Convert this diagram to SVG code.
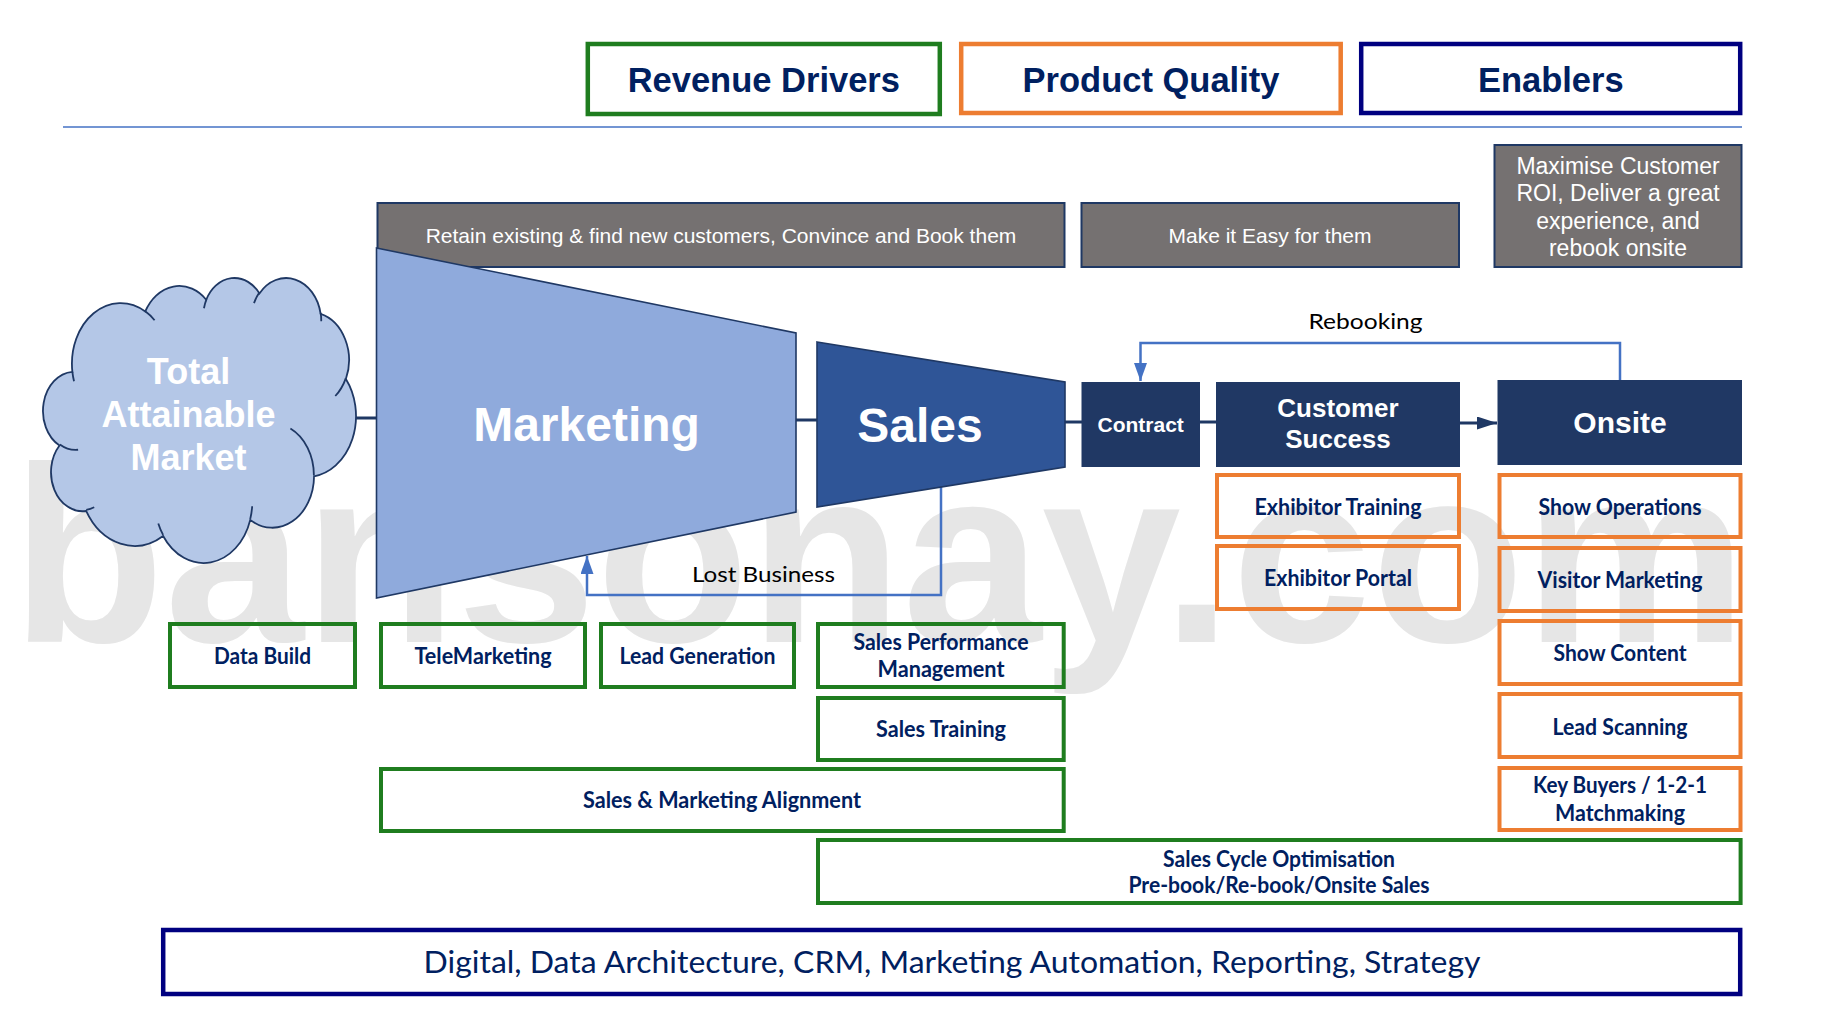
<svg xmlns="http://www.w3.org/2000/svg" width="1829" height="1020" viewBox="0 0 1829 1020">
<defs>
<style>
.lbl{font-family:Lato,"Open Sans","Liberation Sans",sans-serif;font-weight:700;font-size:22px;fill:#002060;text-anchor:middle}
.reg{font-family:Lato,"Open Sans","Liberation Sans",sans-serif;font-weight:400;fill:#000;text-anchor:middle}
.g{fill:none;stroke:#1f7d1f;stroke-width:4}
.o{fill:none;stroke:#ed7d31;stroke-width:4}
.n{fill:none;stroke:#000080;stroke-width:4.5}
.gray{fill:#757171;stroke:#1f3864;stroke-width:2}
.gt{font-family:"Liberation Sans",Arial,sans-serif;font-size:21px;fill:#fff;text-anchor:middle}
.dark{fill:#203864}
.wt{font-family:"Liberation Sans",Arial,sans-serif;font-weight:700;fill:#fff;text-anchor:middle}
.hd{font-family:"Liberation Sans",Arial,sans-serif;font-weight:700;font-size:34.5px;fill:#002060;text-anchor:middle}
.cn{fill:none;stroke:#1f3864;stroke-width:3}
.bl{fill:none;stroke:#4472c4;stroke-width:2.5}
.shape{stroke:#1f3864;stroke-width:1.6}
</style>
<marker id="arrBlue" markerUnits="userSpaceOnUse" markerWidth="19" markerHeight="14" refX="18" refY="6.5" orient="auto">
<path d="M0,0 L18,6.5 L0,13 Z" fill="#4472c4"/>
</marker>
<marker id="arrNavy" markerUnits="userSpaceOnUse" markerWidth="21" markerHeight="14" refX="20" refY="6.5" orient="auto">
<path d="M0,0 L20,6.5 L0,13 Z" fill="#1f3864"/>
</marker>
</defs>
<rect x="0" y="0" width="1829" height="1020" fill="#fff"/>
<text x="11.5" y="642" font-family="Liberation Sans,Arial,sans-serif" font-weight="700" font-size="250.5" fill="#e6e6e6">bansonay.com</text>

<g id="header-revenue"><rect class="n" x="587.8" y="44" width="352" height="70" style="stroke:#1f7d1f"/><text class="hd" x="763.8" y="92">Revenue Drivers</text></g>
<g id="header-quality"><rect class="n" x="961.2" y="44" width="379.5" height="69" style="stroke:#ed7d31"/><text class="hd" x="1151" y="92">Product Quality</text></g>
<g id="header-enablers"><rect class="n" x="1361.2" y="44" width="379" height="69"/><text class="hd" x="1550.8" y="92">Enablers</text></g>
<line x1="63" y1="127" x2="1742" y2="127" stroke="#4472c4" stroke-width="1.6"/>

<g id="banner-retain"><rect class="gray" x="377.5" y="203" width="687" height="64"/><text class="gt" x="721" y="243">Retain existing &amp; find new customers, Convince and Book them</text></g>
<g id="banner-easy"><rect class="gray" x="1081.5" y="203" width="377.5" height="64"/><text class="gt" x="1270" y="243">Make it Easy for them</text></g>
<g id="banner-roi"><rect class="gray" x="1494.5" y="145" width="247" height="122"/>
<text class="gt" x="1618" y="173.5" style="font-size:23px">Maximise Customer</text>
<text class="gt" x="1618" y="201" style="font-size:23px">ROI, Deliver a great</text>
<text class="gt" x="1618" y="228.5" style="font-size:23px">experience, and</text>
<text class="gt" x="1618" y="256" style="font-size:23px">rebook onsite</text></g>

<g id="connectors">
<line class="cn" x1="354" y1="418" x2="377" y2="418"/>
<line class="cn" x1="796" y1="420" x2="817" y2="420"/>
<line class="cn" x1="1065" y1="422" x2="1082" y2="422"/>
<line class="cn" x1="1200" y1="422" x2="1216" y2="422"/>
<path class="cn" d="M1460,423 L1497,423" marker-end="url(#arrNavy)"/>
<path class="bl" d="M1620,380 L1620,343 L1140.5,343 L1140.5,381" marker-end="url(#arrBlue)"/>
<path class="bl" d="M941,487 L941,595 L587,595 L587,556" marker-end="url(#arrBlue)"/>
</g>

<g id="marketing"><polygon class="shape" points="376.5,248 796,333 796,512 376.5,598" fill="#8faadc"/><text class="wt" x="586.5" y="441" font-size="48">Marketing</text></g>

<g id="market-cloud">
<g transform="translate(44.25,277.1) scale(0.007213,0.006595)">
<path fill="#b4c7e7" stroke="#1f3864" stroke-width="1.8" vector-effect="non-scaling-stroke" d="M3900,14370 A6753,9190 0 0 1 14006.5,5203.2 A5333,7267 0 0 1 22456.8,3430.4 A4365,5945 0 0 1 29831.6,2474.8 A4857,6595 0 0 1 38317.3,5569.2 A5333,7273 0 0 1 41817.8,15453.2 A6775,9220 0 0 1 37405.4,30199.3 A5785,7867 0 0 1 28557.5,36809.8 A6752,9215 0 0 1 16482,39259.9 A7720,10543 0 0 1 5805.4,35465.2 A4360,5918 0 0 1 2114.6,25542.8 A4345,5945 0 0 1 3900,14370 Z"/>
<path fill="none" stroke="#1f3864" stroke-width="1.8" vector-effect="non-scaling-stroke" d="M4693,26177 A4345,5945 0 0 1 2160.1,25380.1 M6928,34899 A4360,5918 0 0 1 5819.5,35280.4 M16478,39090 A6752,9215 0 0 1 15809.9,37348.7 M28827,34751 A6752,9215 0 0 1 28560.2,36660.8 M34129,22954 A5785,7867 0 0 1 37380.8,30089.8 M41798,15354 A5333,7273 0 0 1 40350,18029.8 M38324,5426 A4857,6595 0 0 1 38400.4,6689.6 M29078,3952 A4857,6595 0 0 1 29819.3,2340.5 M22141,4720 A4365,5945 0 0 1 22500.1,3329.9 M14000,5192 A6753,9190 0 0 1 15297,6537.3 M4127,15789 A6753,9190 0 0 1 3900.1,14369.9"/>
</g>
<text class="wt" x="188.5" y="384" font-size="36">Total</text>
<text class="wt" x="188.5" y="427" font-size="36">Attainable</text>
<text class="wt" x="188.5" y="470" font-size="36">Market</text>
</g>

<g id="sales"><polygon class="shape" points="817,342 1065,382 1065,467 817,507" fill="#2f5597"/><text class="wt" x="920" y="442" font-size="48">Sales</text></g>
<g id="contract"><rect class="dark" x="1081.5" y="382" width="118.5" height="85"/><text class="wt" x="1140.7" y="432" font-size="21">Contract</text></g>
<g id="customer-success"><rect class="dark" x="1216" y="382" width="244" height="85"/><text class="wt" x="1338" y="417" font-size="26">Customer</text><text class="wt" x="1338" y="448" font-size="26">Success</text></g>
<g id="onsite"><rect class="dark" x="1497.5" y="380" width="244.5" height="85"/><text class="wt" x="1620" y="433" font-size="30">Onsite</text></g>

<text class="reg" x="1365.5" y="329" font-size="22" textLength="114" lengthAdjust="spacingAndGlyphs">Rebooking</text>
<text class="reg" x="763.5" y="582" font-size="22" textLength="143" lengthAdjust="spacingAndGlyphs">Lost Business</text>

<g id="data-build"><rect class="g" x="170" y="624" width="185" height="63"/><text class="lbl" x="262.5" y="664" textLength="97" lengthAdjust="spacingAndGlyphs">Data Build</text></g>
<g id="telemarketing"><rect class="g" x="381" y="624" width="204" height="63"/><text class="lbl" x="483" y="664" textLength="137" lengthAdjust="spacingAndGlyphs">TeleMarketing</text></g>
<g id="lead-generation"><rect class="g" x="601" y="624" width="193" height="63"/><text class="lbl" x="697.5" y="664" textLength="156" lengthAdjust="spacingAndGlyphs">Lead Generation</text></g>
<g id="sales-performance"><rect class="g" x="818" y="624" width="245.7" height="63"/><text class="lbl" x="941" y="650" textLength="175" lengthAdjust="spacingAndGlyphs">Sales Performance</text><text class="lbl" x="941" y="677" textLength="127" lengthAdjust="spacingAndGlyphs">Management</text></g>
<g id="sales-training"><rect class="g" x="818" y="698" width="245.7" height="62"/><text class="lbl" x="941" y="737" textLength="130" lengthAdjust="spacingAndGlyphs">Sales Training</text></g>
<g id="alignment"><rect class="g" x="381" y="769" width="682.7" height="62"/><text class="lbl" x="722" y="808" textLength="278" lengthAdjust="spacingAndGlyphs">Sales &amp; Marketing Alignment</text></g>
<g id="sales-cycle"><rect class="g" x="818" y="840" width="922.6" height="63"/><text class="lbl" x="1279" y="867" textLength="232" lengthAdjust="spacingAndGlyphs">Sales Cycle Optimisation</text><text class="lbl" x="1279" y="893" textLength="301" lengthAdjust="spacingAndGlyphs">Pre-book/Re-book/Onsite Sales</text></g>
<g id="digital"><rect class="n" x="163.2" y="930" width="1577" height="64"/><text class="lbl" x="952" y="973" style="font-weight:400;font-size:30px" textLength="1057" lengthAdjust="spacingAndGlyphs">Digital, Data Architecture, CRM, Marketing Automation, Reporting, Strategy</text></g>

<g id="exhibitor-training"><rect class="o" x="1217" y="475" width="242" height="62"/><text class="lbl" x="1338" y="515" textLength="167" lengthAdjust="spacingAndGlyphs">Exhibitor Training</text></g>
<g id="exhibitor-portal"><rect class="o" x="1217" y="546" width="242" height="63"/><text class="lbl" x="1338" y="586" textLength="148" lengthAdjust="spacingAndGlyphs">Exhibitor Portal</text></g>
<g id="show-operations"><rect class="o" x="1499.5" y="475" width="241" height="62"/><text class="lbl" x="1620" y="515" textLength="163" lengthAdjust="spacingAndGlyphs">Show Operations</text></g>
<g id="visitor-marketing"><rect class="o" x="1499.5" y="548" width="241" height="63"/><text class="lbl" x="1620" y="588" textLength="165" lengthAdjust="spacingAndGlyphs">Visitor Marketing</text></g>
<g id="show-content"><rect class="o" x="1499.5" y="621" width="241" height="63"/><text class="lbl" x="1620" y="661" textLength="133" lengthAdjust="spacingAndGlyphs">Show Content</text></g>
<g id="lead-scanning"><rect class="o" x="1499.5" y="694" width="241" height="63"/><text class="lbl" x="1620" y="735" textLength="135" lengthAdjust="spacingAndGlyphs">Lead Scanning</text></g>
<g id="key-buyers"><rect class="o" x="1499.5" y="768" width="241" height="62"/><text class="lbl" x="1620" y="793" textLength="174" lengthAdjust="spacingAndGlyphs">Key Buyers / 1-2-1</text><text class="lbl" x="1620" y="821" textLength="130" lengthAdjust="spacingAndGlyphs">Matchmaking</text></g>
</svg>
